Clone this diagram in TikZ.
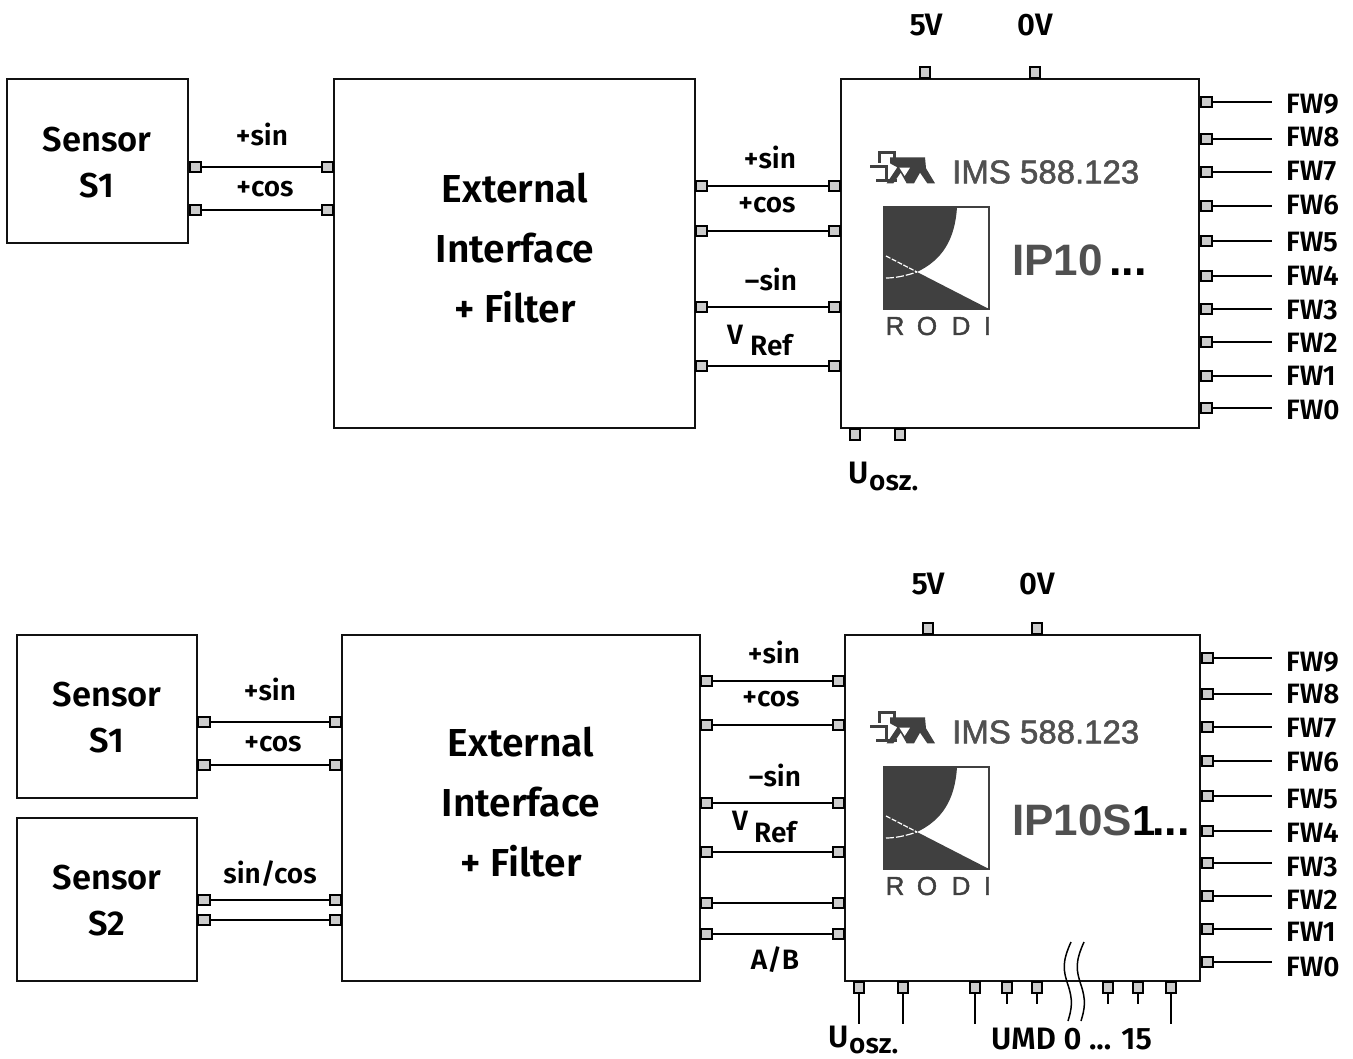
\documentclass[tikz,border=0pt]{standalone}
\usepackage{fontspec}
\setmainfont{Fira Sans SemiBold}
\newfontfamily\arialf[FakeBold=1.6]{Liberation Sans}
\newfontfamily\arialb{Liberation Sans Bold}
\definecolor{pinfill}{HTML}{CCCCCC}
\definecolor{logoc}{HTML}{404040}
\definecolor{ipc}{HTML}{505050}
\definecolor{ink}{HTML}{111111}
\tikzset{
  x=1pt,y=-1pt,
  boxn/.style={draw=ink,line width=2pt,fill=white,inner sep=0pt,outer sep=0pt},
  pinn/.style={draw=black,line width=2pt,fill=pinfill,minimum width=11.6pt,minimum height=9.6pt,inner sep=0pt,outer sep=0pt},
  pinv/.style={pinn,minimum width=10.4pt,minimum height=11.6pt},
  wire/.style={draw=black,line width=2pt},
  lab/.style={font=\fontsize{28}{30}\selectfont,inner sep=0pt,text=black},
  bigu/.style={lab,font=\fontsize{31}{34}\selectfont},
  big/.style={font=\fontsize{39}{60}\selectfont,align=center,inner sep=0pt,text=black},
  sens/.style={font=\fontsize{34.5}{46}\selectfont,align=center,inner sep=0pt,text=black},
  imsn/.style={font=\arialf\fontsize{33}{36}\selectfont,text=ipc,inner sep=0pt,anchor=west},
  ipn/.style={font=\arialb\fontsize{44}{48}\selectfont,text=ipc,inner sep=0pt,anchor=west},
  rodin/.style={font=\arialf\fontsize{26}{28}\selectfont,text=logoc,inner sep=0pt},
  dotsn/.style={font=\arialb\fontsize{45}{48}\selectfont,inner sep=0pt,anchor=base west,text=black},
}
% box: name, x1, y1, x2, y2
\newcommand{\boxat}[6]{\node[boxn,minimum width=#4pt-#2pt,minimum height=#5pt-#3pt,anchor=north west,#6] (#1) at (#2,#3) {};}
% logo group: y offset
\newcommand{\rodilogo}[1]{%
\begin{scope}[shift={(840,130+#1)},xscale=1/3,yscale=1/3]
  \draw[logoc,line width=3.4pt,line join=miter] (118,98) -- (118,67) -- (163,67) -- (163,85);
  \fill[logoc] (150,82) -- (255,82) -- (258,115) -- (285,160) -- (262,160) -- (240,128) -- (222,160) -- (200,160) -- (182,128) -- (160,160) -- (140,160) -- (172,112) -- (150,100) -- cycle;
  \fill[white] (178,113) -- (210,113) -- (194,138) -- cycle;
  \draw[logoc,line width=3.4pt] (90,110) -- (140,110) -- (140,152) (108,152) -- (172,152);
\end{scope}
\begin{scope}[shift={(0,#1)}]
  \draw[logoc,line width=1.2pt] (884,207) rectangle (989,309);
  \fill[logoc] (884,207) -- (957,207) .. controls (955,240) and (942,260) .. (917,272) -- (989,309) -- (884,309) -- cycle;
  \draw[white,line width=1.2pt,dash pattern=on 5pt off 1.5pt] (886,256) -- (917,272);
  \draw[white,line width=1.2pt,dash pattern=on 8pt off 2pt] (886,278) .. controls (897,278) and (908,275) .. (917,272);
\end{scope}}
\begin{document}
\begin{tikzpicture}
\useasboundingbox (0,0) rectangle (1353,1059);
\fill[white] (0,0) rectangle (1353,1059);
% ===== top diagram =====
\boxat{s}{7}{79}{188}{243}{}
\boxat{e}{334}{79}{695}{428}{}
\boxat{c}{841}{79}{1199}{428}{}
\node[sens] at (97,163) {Sensor\\S1};
\node[big] at (515,248) {External\\Interface\\+ Filter};
\foreach \n/\xa/\xb/\y in {a/195.5/327.5/167,b/195.5/327.5/210,c/701.5/834.5/186,d/701.5/834.5/231,f/701.5/834.5/307,g/701.5/834.5/366}{
  \node[pinn] (p\n1) at (\xa,\y) {};
  \node[pinn] (p\n2) at (\xb,\y) {};
  \draw[wire] (p\n1) -- (p\n2);
}
\foreach \n/\x in {a/925,b/1035}{ \node[pinv] (t\n) at (\x,72.5) {}; }
\foreach \n/\x in {a/855,b/900}{ \node[pinv] (u\n) at (\x,434.5) {}; }
\foreach \n/\y/\ly/\t in {9/102/104/FW9,8/139/137/FW8,7/172/171/FW7,6/206/205/FW6,5/241/242/FW5,4/276/276/FW4,3/309/310/FW3,2/342/343/FW2,1/376/376/FW1,0/408/410/FW0}{
  \node[pinn] (r\n) at (1206.5,\y) {};
  \coordinate (re\n) at (1272,\y);
  \draw[wire] (r\n) -- (re\n);
  \node[lab,anchor=west] at (1286,\ly) {\t};
}
\node[bigu] at (926,25) {5V};
\node[bigu] at (1035,25) {0V};
\node[lab] at (262,134) {+sin};
\node[lab] at (265,189) {+cos};
\node[lab] at (770,157) {+sin};
\node[lab] at (767,205) {+cos};
\node[lab] at (771,279) {–sin};
\node[lab,anchor=base west] at (727,345) {V};
\node[lab,anchor=base west] at (750,356) {Ref};
\node[bigu,anchor=base west] at (848,483) {U};
\node[lab,anchor=base west] at (869,490) {osz.};
\rodilogo{0}
\node[imsn] at (952,172) {IMS 588.123};
\node[ipn] at (1012,260) {IP10};
\node[dotsn] at (1109,276) {...};
\foreach \lx/\lt in {895/R,927/O,961/D,987.5/I}{\node[rodin] at (\lx,326) {\lt};}
% ===== bottom diagram =====
\boxat{sa}{17}{635}{197}{798}{}
\boxat{sb}{17}{818}{197}{981}{}
\boxat{e2}{342}{635}{700}{981}{}
\boxat{c2}{845}{635}{1200}{981}{}
\node[sens] at (107,718) {Sensor\\S1};
\node[sens] at (107,901) {Sensor\\S2};
\node[big] at (521,802) {External\\Interface\\+ Filter};
\foreach \n/\xa/\xb/\y in {a/204/335.5/722,b/204/335.5/765,c/204/335.5/900,d/204/335.5/920,f/706.5/838.5/681,g/706.5/838.5/725,h/706.5/838.5/803,i/706.5/838.5/852,j/706.5/838.5/903,k/706.5/838.5/934}{
  \node[pinn] (q\n1) at (\xa,\y) {};
  \node[pinn] (q\n2) at (\xb,\y) {};
  \draw[wire] (q\n1) -- (q\n2);
}
\foreach \n/\x in {a/928,b/1037}{ \node[pinv] (v\n) at (\x,628.5) {}; }
\foreach \n/\y/\ly/\t in {9/658/662/FW9,8/694/694/FW8,7/727/728/FW7,6/761/762/FW6,5/796/799/FW5,4/831/833/FW4,3/863/867/FW3,2/896/900/FW2,1/929/932/FW1,0/962/967/FW0}{
  \node[pinn] (w\n) at (1207.5,\y) {};
  \coordinate (we\n) at (1272,\y);
  \draw[wire] (w\n) -- (we\n);
  \node[lab,anchor=west] at (1286,\ly) {\t};
}
\foreach \n/\x/\ye in {a/859/1024,b/903/1024,c/975/1024,d/1007/1004,e/1037/1004,f/1108/1004,g/1138/1004,h/1171/1024}{
  \node[pinv] (b\n) at (\x,987.5) {};
  \coordinate (be\n) at (\x,\ye);
  \draw[wire] (b\n) -- (be\n);
}
\coordinate (wa1) at (1071,942); \coordinate (wa2) at (1068,1021);
\coordinate (wb1) at (1084,942); \coordinate (wb2) at (1081,1021);
\draw[wire,line width=1.5pt] (wa1) .. controls (1062,962) and (1063,970) .. (1068,985) .. controls (1073,1000) and (1072,1008) .. (wa2);
\draw[wire,line width=1.5pt] (wb1) .. controls (1075,962) and (1076,970) .. (1081,985) .. controls (1086,1000) and (1085,1008) .. (wb2);
\node[bigu] at (928,584) {5V};
\node[bigu] at (1037,584) {0V};
\node[lab] at (270,689) {+sin};
\node[lab] at (273,744) {+cos};
\node[lab] at (270,874) {sin/cos};
\node[lab] at (774,652) {+sin};
\node[lab] at (771,699) {+cos};
\node[lab] at (775,775) {–sin};
\node[lab,anchor=base west] at (732,830) {V};
\node[lab,anchor=base west] at (754,842) {Ref};
\node[lab] at (775,960) {A/B};
\node[bigu,anchor=base west] at (828,1047) {U};
\node[lab,anchor=base west] at (849,1053) {osz.};
\node[bigu,anchor=base west] at (991,1049) {UMD 0 ... 15};
\rodilogo{560}
\node[imsn] at (952,732) {IMS 588.123};
\node[ipn] at (1012,820) {IP10S};
\node[font=\arialb\fontsize{42}{48}\selectfont,inner sep=0pt,anchor=base west,text=black] at (1132,835) {1};
\node[dotsn] at (1152,835) {...};
\foreach \lx/\lt in {895/R,927/O,961/D,987.5/I}{\node[rodin] at (\lx,886) {\lt};}
\end{tikzpicture}
\end{document}
